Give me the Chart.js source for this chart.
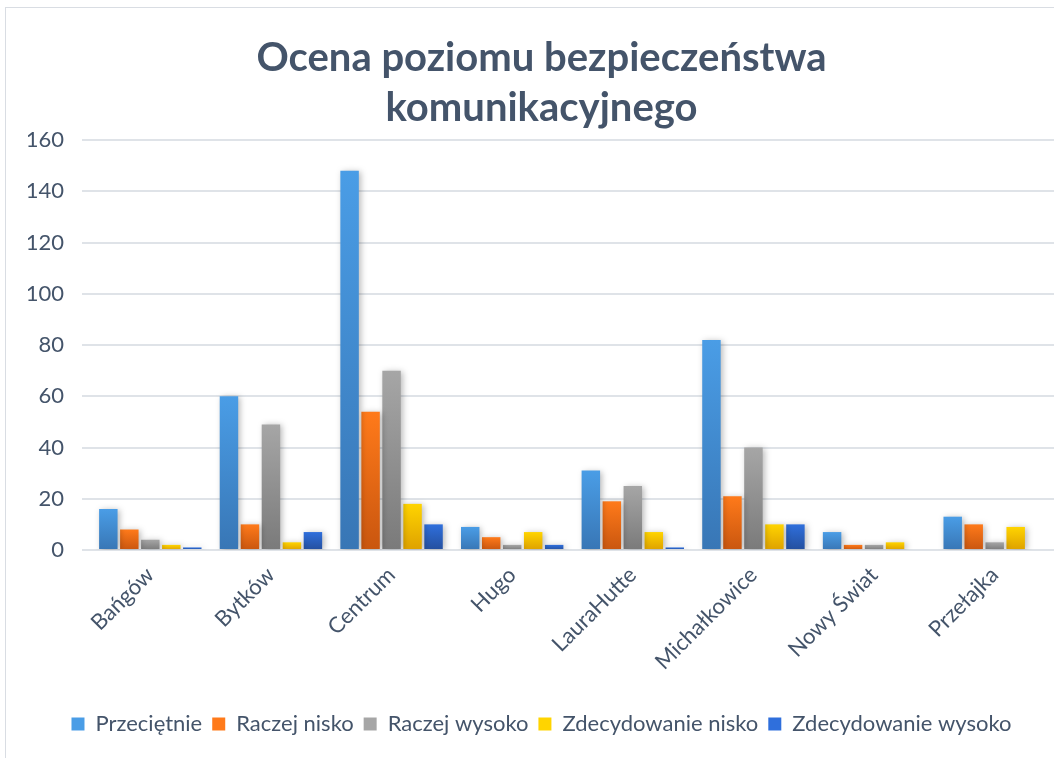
<!DOCTYPE html>
<html>
<head>
<meta charset="utf-8">
<script src="https://cdn.jsdelivr.net/npm/chart.js@4/dist/chart.umd.min.js"></script>
<style>
  html,body{margin:0;padding:0;background:#fff;overflow:hidden;width:1054px;height:758px;}
  #frame{position:absolute;left:5px;top:7px;width:1080px;height:751px;border-left:1px solid #d9dde3;border-top:1px solid #d9dde3;}
  #wrap{position:absolute;left:0;top:0;width:1080px;height:751px;}
</style>
</head>
<body>
<div id="frame"><div id="wrap"><canvas id="chart"></canvas></div></div>
<script>
// Data
const categories=['Bańgów','Bytków','Centrum','Hugo','LauraHutte','Michałkowice','Nowy Świat','Przełajka'];
const seriesNames=['Przeciętnie','Raczej nisko','Raczej wysoko','Zdecydowanie nisko','Zdecydowanie wysoko'];
const przecietnie=[16,60,148,9,31,82,7,13];
const raczejNisko=[8,10,54,5,19,21,2,10];
const raczejWysoko=[4,49,70,2,25,40,2,3];
const zdecNisko=[2,3,18,7,7,10,3,9];
const zdecWysoko=[1,7,10,2,1,10,0,0];
const yTicks=[0,20,40,60,80,100,120,140,160];

const seriesValues=[przecietnie,raczejNisko,raczejWysoko,zdecNisko,zdecWysoko];
const gradColors=[
  ['#4a9de6','#3876b5'],
  ['#ff7a1a','#c9560f'],
  ['#a6a6a6','#7a7a7a'],
  ['#ffd400','#dea100'],
  ['#2f6fdc','#244f9e']
];
const textCol='#44546a';

function barFill(i){
  return function(c){
    const chart=c.chart;
    const area=chart.chartArea;
    if(!area) return gradColors[i][0];
    const y=chart.scales.y;
    const v=c.raw||0;
    const top=y.getPixelForValue(v), bot=y.getPixelForValue(0);
    if(bot-top<1) return gradColors[i][1];
    const g=chart.ctx.createLinearGradient(0,top,0,bot);
    g.addColorStop(0,gradColors[i][0]);
    g.addColorStop(1,gradColors[i][1]);
    return g;
  };
}

// soft drop shadow under the bars
const shadow={
  id:'shadow',
  beforeDatasetsDraw(chart){
    const ctx=chart.ctx;
    ctx.save();
    ctx.shadowColor='rgba(0,0,0,0.28)';
    ctx.shadowBlur=6;
    ctx.shadowOffsetX=2;
    ctx.shadowOffsetY=1;
  },
  afterDatasetsDraw(chart){ chart.ctx.restore(); }
};

const ctx=document.getElementById('chart').getContext('2d');
new Chart(ctx,{
  type:'bar',
  data:{
    labels:categories,
    datasets:seriesNames.map((n,i)=>({
      label:n,
      data:seriesValues[i],
      backgroundColor:barFill(i),
      borderWidth:0,
      barPercentage:0.88,
      categoryPercentage:0.87
    }))
  },
  plugins:[shadow],
  options:{
    responsive:true,maintainAspectRatio:false,animation:false,
    layout:{padding:{left:22,right:31,top:0,bottom:14}},
    plugins:{
      title:{display:true,text:['Ocena poziomu bezpieczeństwa','komunikacyjnego'],color:textCol,
        font:{family:'Lato',size:40,weight:'bold',lineHeight:1.25},padding:{top:25,bottom:7}},
      legend:{position:'bottom',
        labels:{color:textCol,font:{family:'Lato',size:22},boxWidth:13,boxHeight:13,padding:10,
          generateLabels:chart=>seriesNames.map((n,i)=>({text:n,fillStyle:gradColors[i][0],strokeStyle:gradColors[i][0],lineWidth:0,datasetIndex:i,fontColor:textCol}))}},
      tooltip:{enabled:false}
    },
    scales:{
      x:{grid:{display:false},border:{display:false},
        ticks:{color:textCol,font:{family:'Lato',size:22},minRotation:45,maxRotation:45,padding:4},
        afterFit:s=>{s.height=153;}},
      y:{min:0,max:160,grid:{color:'#dfe3e8',lineWidth:2},border:{display:false},
        afterBuildTicks:s=>{s.ticks=yTicks.map(v=>({value:v}));},
        ticks:{color:textCol,font:{family:'Lato',size:22},padding:18},
        afterFit:s=>{s.width=62;}}
    }
  }
});
</script>
</body>
</html>
